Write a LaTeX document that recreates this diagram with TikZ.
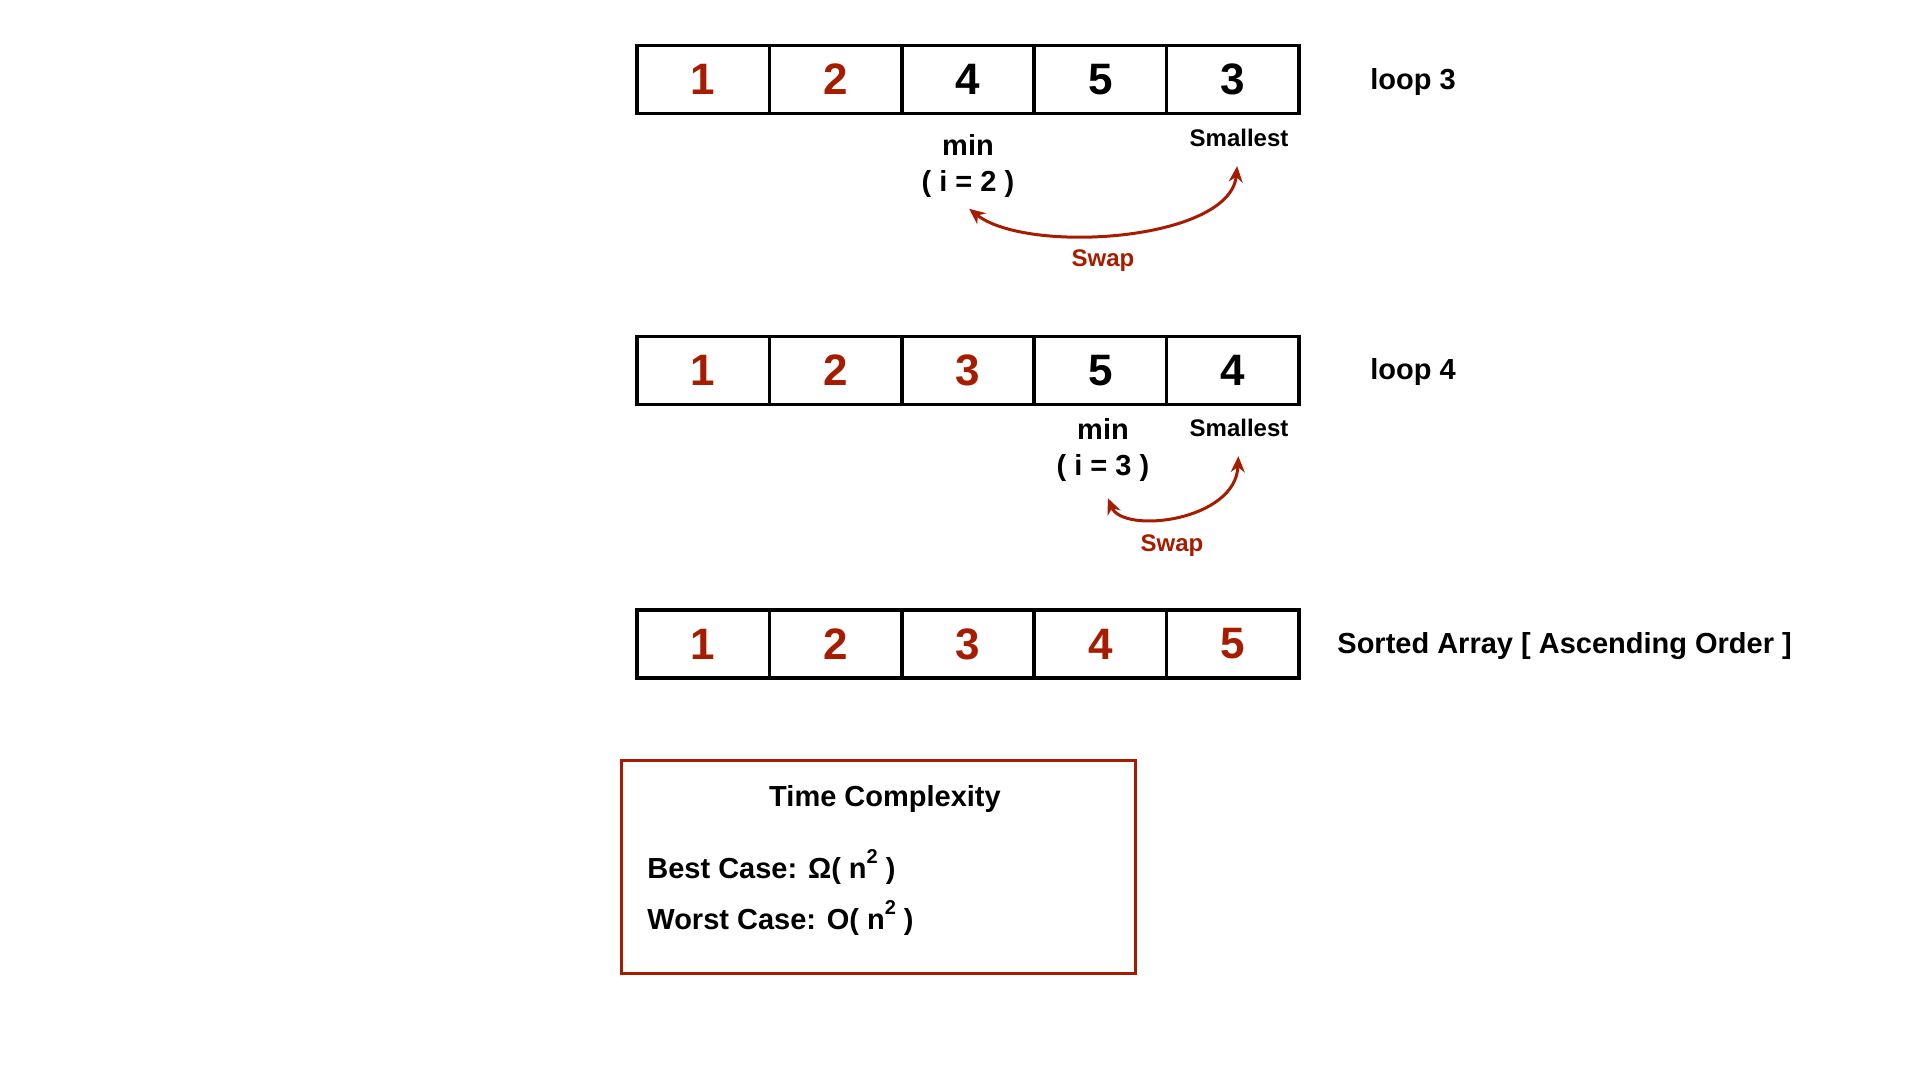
\documentclass[tikz,border=0pt]{standalone}
\usepackage{fontspec}
\setmainfont{Liberation Sans}
\usetikzlibrary{arrows.meta}
\definecolor{dred}{RGB}{166,28,0}
\newcommand\nsqmark{n\raisebox{0.55em}{\fontsize{10}{10}\selectfont 2}}
\begin{document}
\begin{tikzpicture}[x=0.5pt,y=-0.5pt,
  cell/.style={draw=black, line width=1.75pt, minimum width=66.2pt, minimum height=34pt, inner sep=0pt, outer sep=0pt, font=\fontsize{22}{26}\selectfont\bfseries},
  done/.style={cell, text=dred},
  lbl/.style={font=\fontsize{14.5}{18}\selectfont\bfseries, inner sep=0pt, align=center},
  smalllbl/.style={font=\fontsize{12}{14}\selectfont\bfseries, inner sep=0pt},
  swaplbl/.style={smalllbl, text=dred},
  swaparrow/.style={draw=dred, line width=1.5pt, {Stealth[length=8pt,width=7pt]}-{Stealth[length=8pt,width=7pt]}},
  tcbox/.style={draw=dred, line width=1.25pt, inner sep=0pt, minimum width=257pt, minimum height=106.5pt},
]
\useasboundingbox (0,0) rectangle (1920,1080);
\fill[white] (0,0) rectangle (1920,1080);

% Row 1 (loop 3)
\node[done] (a1) at (703.2,79.5) {1};
\node[done] (a2) at (835.6,79.5) {2};
\node[cell] (a3) at (968.0,79.5) {4};
\node[cell] (a4) at (1100.4,79.5) {5};
\node[cell] (a5) at (1232.8,79.5) {3};
\node[lbl] (l3) at (1413,82.5) {loop 3};
\node[lbl] (m1) at (968,166) {min\\[-0.3pt]( i = 2 )};
\node[smalllbl] (s1) at (1239,138) {Smallest};
\draw[swaparrow, shorten <=9.5pt, shorten >=9pt] (s1.south) .. controls +(-9,94) and +(72,57) .. ([xshift=-6.5pt]m1.south);
\node[swaplbl] (w1) at (1103,260.5) {Swap};

% Row 2 (loop 4)
\node[done] (b1) at (703.2,370.5) {1};
\node[done] (b2) at (835.6,370.5) {2};
\node[done] (b3) at (968.0,370.5) {3};
\node[cell] (b4) at (1100.4,370.5) {5};
\node[cell] (b5) at (1232.8,370.5) {4};
\node[lbl] (l4) at (1413,372.5) {loop 4};
\node[lbl] (m2) at (1103,450) {min\\[-0.3pt]( i = 3 )};
\node[smalllbl] (s2) at (1239,428) {Smallest};
\draw[swaparrow, shorten <=9.5pt, shorten >=9pt] (s2.south) .. controls +(-3,84) and +(22,53) .. ([xshift=-1pt]m2.south);
\node[swaplbl] (w2) at (1172,545.5) {Swap};

% Row 3 (sorted)
\node[done] (c1) at (703.2,644) {1};
\node[done] (c2) at (835.6,644) {2};
\node[done] (c3) at (968.0,644) {3};
\node[done] (c4) at (1100.4,644) {4};
\node[done] (c5) at (1232.8,644) {5};
\node[lbl, anchor=west] (sorted) at (1337,646.5) {Sorted Array [ Ascending Order ]};

% Time complexity box
\node[tcbox, anchor=north west] (tc) at (620,759) {};
\node[lbl] (tct) at (885,798.5) {Time Complexity};
\node[lbl, anchor=west] (best) at (647,867) {Best Case: Ω( \nsqmark{} )};
\node[lbl, anchor=west] (worst) at (647,918) {Worst Case: O( \nsqmark{} )};
\end{tikzpicture}
\end{document}
